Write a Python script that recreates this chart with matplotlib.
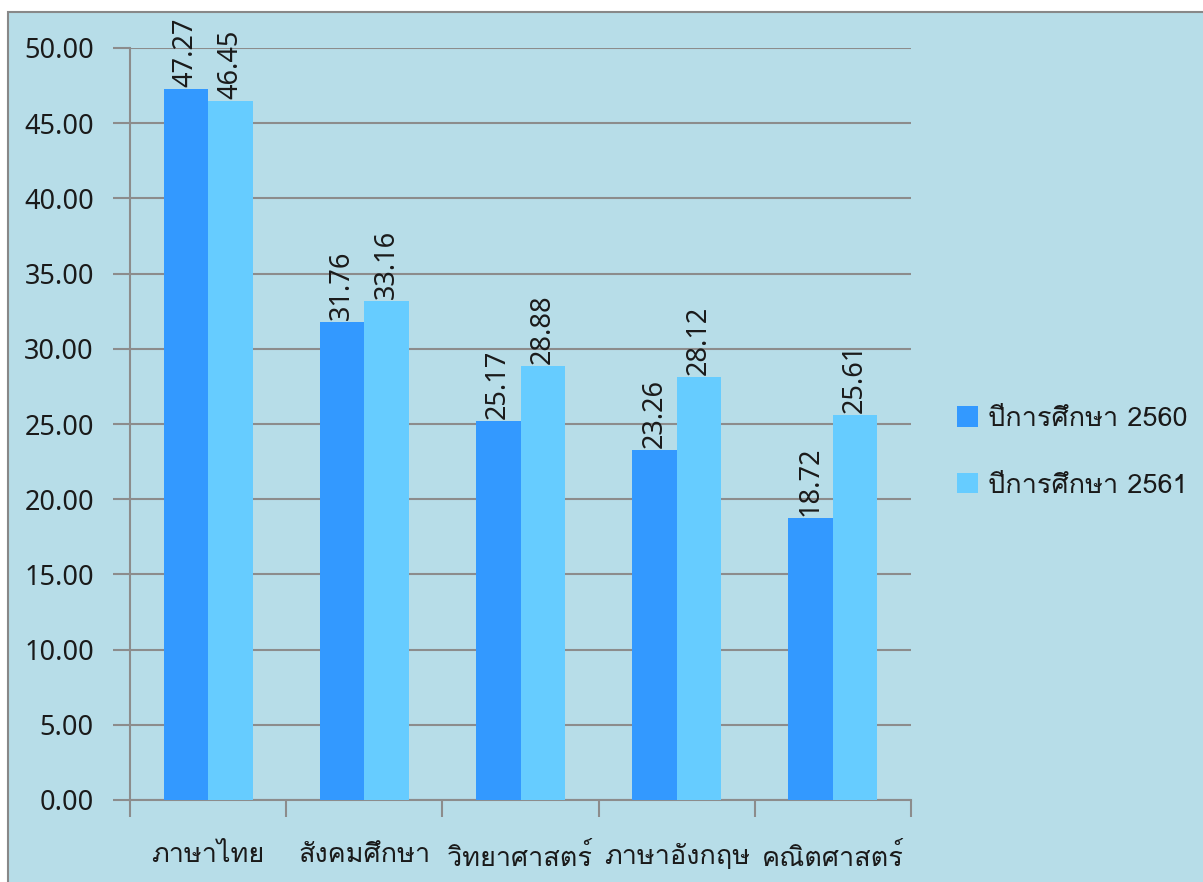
import matplotlib
matplotlib.use("Agg")
import matplotlib.pyplot as plt
import numpy as np
from matplotlib import font_manager
from matplotlib.ft2font import FT2Font
from matplotlib.patches import Rectangle

# data
subjects = ["ภาษาไทย", "สังคมศึกษา", "วิทยาศาสตร์", "ภาษาอังกฤษ", "คณิตศาสตร์"]
scores_2560 = [47.27, 31.76, 25.17, 23.26, 18.72]
scores_2561 = [46.45, 33.16, 28.88, 28.12, 25.61]
series_names = ["ปีการศึกษา 2560", "ปีการศึกษา 2561"]
yticks = np.arange(0, 50.01, 5)


def find_thai_font():
    """Pick an installed font that has Thai glyphs."""
    for f in font_manager.fontManager.ttflist:
        try:
            cmap = FT2Font(f.fname).get_charmap()
        except Exception:
            continue
        if 0x0E20 in cmap and 0x0E29 in cmap:
            return f.name
    return None


thai = find_thai_font()
thai_fam = [thai, "DejaVu Sans"] if thai else ["DejaVu Sans"]
plt.rcParams["font.family"] = ["Noto Sans", "DejaVu Sans"]

BG = "#B7DDE8"
GRID = "#8C8C8C"
C1 = "#3399FF"
C2 = "#66CCFF"
TXT = "#1a1a1a"

fig = plt.figure(figsize=(12.03, 8.82), dpi=100)
fig.patch.set_facecolor("white")
fig.patches.append(
    Rectangle((8 / 1203, -0.01), 1.02, 1 - 12 / 882 + 0.01, transform=fig.transFigure,
              facecolor=BG, edgecolor="#888888", linewidth=1.5, zorder=-10)
)

ax = fig.add_axes([130 / 1203, 1 - 800 / 882, 781 / 1203, 752 / 882])
ax.patch.set_alpha(0)

x = np.arange(len(subjects))
w = 0.285
b1 = ax.bar(x - w / 2, scores_2560, w, color=C1, label=series_names[0], zorder=3)
b2 = ax.bar(x + w / 2, scores_2561, w, color=C2, label=series_names[1], zorder=3)

for bars, vals in ((b1, scores_2560), (b2, scores_2561)):
    for r, v in zip(bars, vals):
        ax.annotate(f"{v:.2f}", (r.get_x() + r.get_width() / 2, v),
                    xytext=(0, 1.5), textcoords="offset points",
                    rotation=90, ha="center", va="bottom", fontsize=19.5,
                    color=TXT, zorder=4)

ax.set_xlim(-0.5, len(subjects) - 0.5)
ax.set_ylim(0, 50)
ax.set_yticks(yticks)
ax.set_yticklabels([f"{t:.2f}" for t in yticks], fontsize=19.5, color=TXT)
ax.yaxis.grid(True, color=GRID, linewidth=1.5, zorder=0)

# category labels between boundary ticks
ax.set_xticks(np.arange(-0.5, len(subjects)), minor=False)
ax.set_xticklabels([])
ax.set_xticks(x, minor=True)
ax.set_xticklabels(subjects, minor=True, fontsize=19.5, color=TXT, family=thai_fam)
ax.tick_params(axis="x", which="minor", length=0, pad=31)
ax.tick_params(axis="x", which="major", length=12, width=1.5, color=GRID, direction="out")
ax.tick_params(axis="y", length=12, width=1.5, color=GRID, direction="out", pad=14)

for s in ("top", "right"):
    ax.spines[s].set_visible(False)
for s in ("left", "bottom"):
    ax.spines[s].set_color(GRID)
    ax.spines[s].set_linewidth(1.5)

leg = fig.legend(handles=[b1, b2], labels=series_names, loc="center left",
                 bbox_to_anchor=(957 / 1203, 1 - 452 / 882), frameon=False,
                 prop={"family": thai_fam, "size": 19.5}, borderpad=0,
                 borderaxespad=0, handlelength=0.78, handleheight=0.78,
                 handletextpad=0.37, labelspacing=1.55)
for t in leg.get_texts():
    t.set_color(TXT)

fig.savefig("out.png", dpi=100, facecolor=fig.get_facecolor())
